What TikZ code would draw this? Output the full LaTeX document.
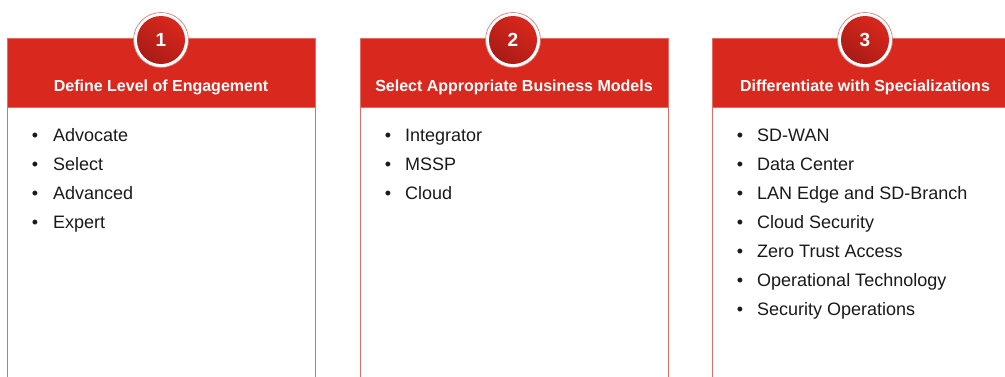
\documentclass[tikz,border=0pt]{standalone}
\usepackage{fontspec}
\setmainfont{Liberation Sans}
\definecolor{fred}{HTML}{D9281D}
\definecolor{fline}{HTML}{E36B63}
\definecolor{fdark}{HTML}{A91B16}
\definecolor{ftext}{HTML}{1A1A1A}
\begin{document}
\begin{tikzpicture}[x=1pt,y=-1pt,
  panelbody/.style={draw=fline, line width=0.8pt, fill=white, minimum width=308pt, minimum height=320pt, inner sep=0pt, anchor=north west},
  panelhead/.style={draw=fline, line width=0.6pt, fill=fred, minimum width=308pt, minimum height=69pt, inner sep=0pt, anchor=north west},
  headtext/.style={text=white, font=\fontsize{16}{18}\selectfont\bfseries, anchor=base, inner sep=0pt},
  ring/.style={circle, fill=white, draw=fline, line width=0.6pt, minimum size=55pt, inner sep=0pt},
  badge/.style={circle, minimum size=48pt, inner sep=0pt, left color=fred, right color=fdark, shading angle=-35},
  num/.style={text=white, font=\fontsize{19}{21}\selectfont\bfseries, inner sep=0pt},
  bul/.style={text=ftext, font=\fontsize{18}{20}\selectfont, anchor=base, inner sep=0pt},
  item/.style={text=ftext, font=\fontsize{18}{20}\selectfont, anchor=base west, inner sep=0pt}
]
\useasboundingbox (0,0) rectangle (1005,376);
\clip (0,0) rectangle (1005,376);

% Panel 1
\node[panelbody] (b1) at (7,106) {};
\node[panelhead] (h1) at (7,38) {};
\node[headtext] (t1) at (161,91) {Define Level of Engagement};
\node[ring] (r1) at (161,40) {};
\node[badge] (c1) at (r1.center) {};
\node[num] (n1) at (r1.center) {1};
\node[bul] (p1a) at (35,141.5) {•};
\node[item] (i1a) at (53,141.5) {Advocate};
\node[bul] (p1b) at (35,170.5) {•};
\node[item] (i1b) at (53,170.5) {Select};
\node[bul] (p1c) at (35,199.5) {•};
\node[item] (i1c) at (53,199.5) {Advanced};
\node[bul] (p1d) at (35,228.5) {•};
\node[item] (i1d) at (53,228.5) {Expert};

% Panel 2
\node[panelbody] (b2) at (360,106) {};
\node[panelhead] (h2) at (360,38) {};
\node[headtext] (t2) at (514,91) {Select Appropriate Business Models};
\node[ring] (r2) at (513,40) {};
\node[badge] (c2) at (r2.center) {};
\node[num] (n2) at (r2.center) {2};
\node[bul] (p2a) at (388,141.5) {•};
\node[item] (i2a) at (405,141.5) {Integrator};
\node[bul] (p2b) at (388,170.5) {•};
\node[item] (i2b) at (405,170.5) {MSSP};
\node[bul] (p2c) at (388,199.5) {•};
\node[item] (i2c) at (405,199.5) {Cloud};

% Panel 3
\node[panelbody] (b3) at (712,106) {};
\node[panelhead] (h3) at (712,38) {};
\node[headtext] (t3) at (865,91) {Differentiate with Specializations};
\node[ring] (r3) at (865,40) {};
\node[badge] (c3) at (r3.center) {};
\node[num] (n3) at (r3.center) {3};
\node[bul] (p3a) at (740,141.5) {•};
\node[item] (i3a) at (757,141.5) {SD-WAN};
\node[bul] (p3b) at (740,170.5) {•};
\node[item] (i3b) at (757,170.5) {Data Center};
\node[bul] (p3c) at (740,199.5) {•};
\node[item] (i3c) at (757,199.5) {LAN Edge and SD-Branch};
\node[bul] (p3d) at (740,228.5) {•};
\node[item] (i3d) at (757,228.5) {Cloud Security};
\node[bul] (p3e) at (740,257.5) {•};
\node[item] (i3e) at (757,257.5) {Zero Trust Access};
\node[bul] (p3f) at (740,286.5) {•};
\node[item] (i3f) at (757,286.5) {Operational Technology};
\node[bul] (p3g) at (740,315.5) {•};
\node[item] (i3g) at (757,315.5) {Security Operations};
\end{tikzpicture}
\end{document}
